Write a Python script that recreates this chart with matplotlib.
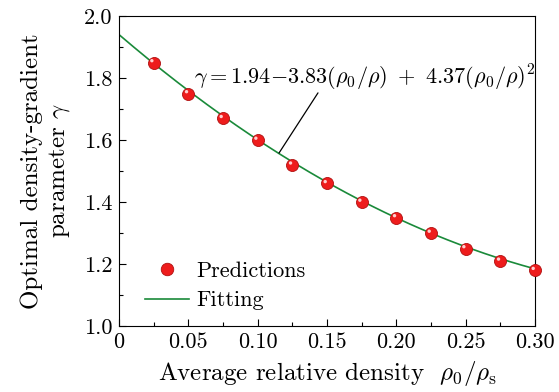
import matplotlib
matplotlib.use("Agg")
import matplotlib.pyplot as plt
import matplotlib.transforms as mtransforms
import numpy as np
from matplotlib.lines import Line2D

plt.rcParams['font.family'] = 'serif'
plt.rcParams['font.serif'] = ['cmr10']
plt.rcParams['mathtext.fontset'] = 'cm'
plt.rcParams['axes.formatter.use_mathtext'] = True
plt.rcParams['axes.unicode_minus'] = False

x_pred = [0.025, 0.05, 0.075, 0.10, 0.125, 0.15, 0.175, 0.20, 0.225, 0.25, 0.275, 0.30]
y_pred = [1.85, 1.75, 1.67, 1.60, 1.52, 1.46, 1.40, 1.35, 1.30, 1.25, 1.21, 1.18]
fit_coef = [1.94, -3.83, 4.37]
x_ticks = [0, 0.05, 0.10, 0.15, 0.20, 0.25, 0.30]
x_tick_labels = ['0', '0.05', '0.10', '0.15', '0.20', '0.25', '0.30']
y_ticks = [1.0, 1.2, 1.4, 1.6, 1.8, 2.0]
y_tick_labels = ['1.0', '1.2', '1.4', '1.6', '1.8', '2.0']

fig = plt.figure(figsize=(5.59, 3.92), dpi=100)
ax = fig.add_axes([119/559, 1-326/392, 416/559, 310/392])

xf = np.linspace(0, 0.30, 200)
yf = fit_coef[0] + fit_coef[1]*xf + fit_coef[2]*xf**2
line, = ax.plot(xf, yf, color='#1a8a3a', lw=1.2, zorder=2)

ax.scatter(x_pred, y_pred, s=75, c='#ee1c1c', edgecolors='#b01010', linewidths=0.6, zorder=3, clip_on=False)
off = mtransforms.ScaledTranslation(-1.3/72, 1.3/72, fig.dpi_scale_trans)
ax.scatter(x_pred, y_pred, s=6, c='#ffd0d0', edgecolors='none', zorder=4, clip_on=False,
           transform=ax.transData + off)

ax.set_xlim(0, 0.30)
ax.set_ylim(1.0, 2.0)
ax.set_xticks(x_ticks)
ax.set_xticklabels(x_tick_labels)
ax.set_yticks(y_ticks)
ax.set_yticklabels(y_tick_labels)
ax.set_xticks(np.arange(0.025, 0.3, 0.05), minor=True)
ax.set_yticks(np.arange(1.1, 2.0, 0.2), minor=True)
ax.tick_params(which='both', direction='in', top=False, right=False, labelsize=16, pad=5)
ax.tick_params(which='major', length=5, width=0.8)
ax.tick_params(which='minor', length=3, width=0.8)
for sp in ax.spines.values():
    sp.set_linewidth(0.8)

ax.set_xlabel(r'Average relative density  $\rho_0/\rho_{\rm s}$', fontsize=18, labelpad=5)
ax.set_ylabel('Optimal density-gradient\n' + r'parameter $\gamma$', fontsize=18, labelpad=8, linespacing=1.25)

ax.annotate('', xy=(0.1154, 1.558), xytext=(0.1435, 1.752),
            arrowprops=dict(arrowstyle='-', color='black', lw=0.9, shrinkA=0, shrinkB=0))
ax.text(0.177, 1.80, r'$\gamma = 1.94{-}3.83(\rho_0/\rho)\ +\ 4.37(\rho_0/\rho)^2$',
        fontsize=16, ha='center', va='center')

h1 = Line2D([], [], marker='o', ls='none', markersize=9, markerfacecolor='#ee1c1c',
            markeredgecolor='#b01010', markeredgewidth=0.6)
leg = ax.legend([h1, line], ['Predictions', 'Fitting'], loc='lower left',
                bbox_to_anchor=(0.025, 0.0), frameon=False, fontsize=16,
                handlelength=2.0, handletextpad=0.3, labelspacing=0.45, borderaxespad=0.3)

fig.savefig('out.png', dpi=100)
